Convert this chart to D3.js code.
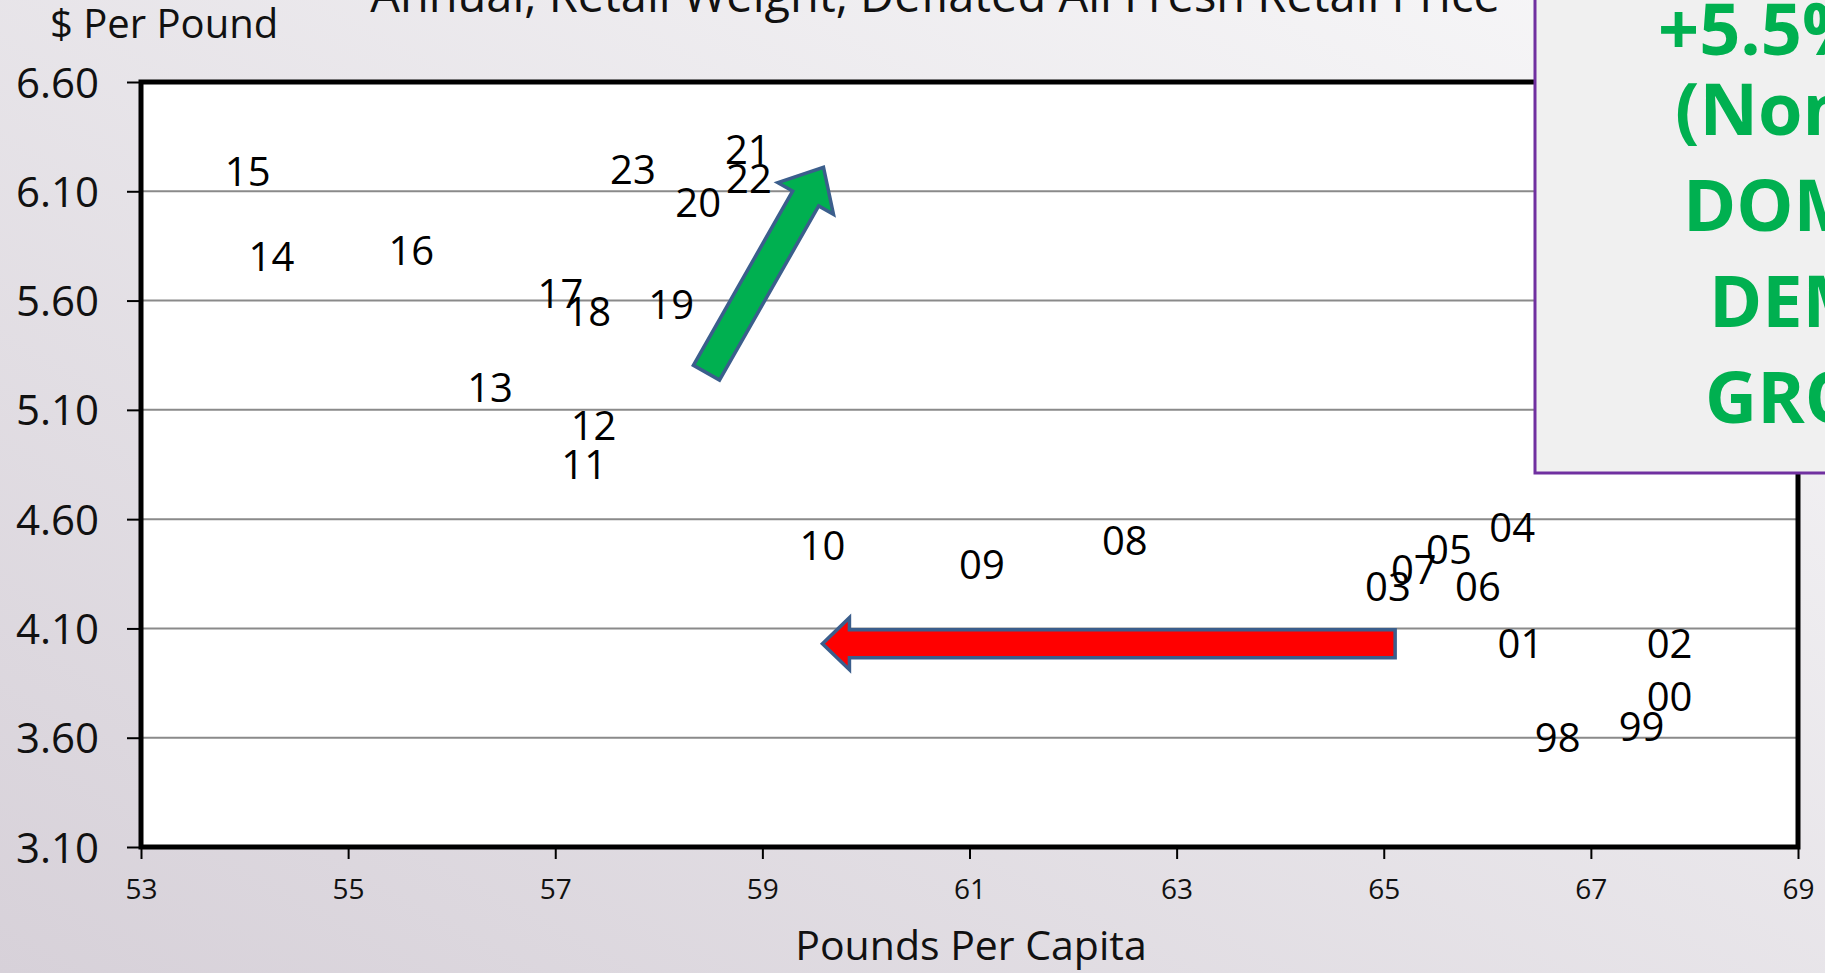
<!DOCTYPE html>
<html><head><meta charset="utf-8">
<script src="https://cdn.jsdelivr.net/npm/d3@7"></script>
<style>
body{margin:0;overflow:hidden;background:#e8e5ea;}
svg{display:block;}
text{font-family:"Open Sans",sans-serif;}
</style>
</head><body>
<script>
// ---- data ----
const years  = ["98","99","00","01","02","03","04","05","06","07","08","09","10","11","12","13","14","15","16","17","18","19","20","21","22","23"];
const pounds = [66.68,67.49,67.76,66.32,67.76,65.04,66.24,65.63,65.91,65.29,62.50,61.12,59.58,57.28,57.37,56.37,54.26,54.03,55.61,57.05,57.32,58.12,58.38,58.86,58.87,57.75];
const prices = [3.60,3.65,3.79,4.03,4.03,4.29,4.56,4.46,4.29,4.37,4.50,4.39,4.48,4.85,5.03,5.20,5.80,6.19,5.83,5.63,5.55,5.58,6.05,6.29,6.16,6.20];
const xTicks = [53,55,57,59,61,63,65,67,69];
const yTicks = [3.10,3.60,4.10,4.60,5.10,5.60,6.10,6.60];
const titleText = "Annual, Retail Weight, Deflated All Fresh Retail Price";
const yTitle = "$ Per Pound";
const xTitle = "Pounds Per Capita";
const calloutLines = ["+5.5%","(Nominal)","DOMESTIC","DEMAND","GROWTH"];
// arrows in data units: [x1,y1] tail -> [x2,y2] tip
const upArrow = {from:[58.46,5.27], to:[59.59,6.21]};
const leftArrow = {from:[65.11,4.03], to:[59.58,4.03]};

// ---- layout ----
const W = 1825, H = 973;
const L = 141, R = 1798, T = 82, B = 847;

const svg = d3.select("body").append("svg").attr("width", W).attr("height", H);
const defs = svg.append("defs");
const g = defs.append("linearGradient").attr("id","bg")
  .attr("x1","1").attr("y1","0").attr("x2","0").attr("y2","1");
g.append("stop").attr("offset","0").attr("stop-color","#f8f8f9");
g.append("stop").attr("offset","1").attr("stop-color","#d7d1d9");
svg.append("rect").attr("width",W).attr("height",H).attr("fill","url(#bg)");

const x = d3.scaleLinear().domain([53,69]).range([L,R]);
const y = d3.scaleLinear().domain([3.10,6.60]).range([B,T]);

// title (partially cut at the top)
svg.append("text").attr("x",935).attr("y",12).attr("text-anchor","middle")
  .attr("font-size",47).attr("fill","#111").text(titleText);

svg.append("text").attr("x",50).attr("y",38).attr("font-size",40).attr("fill","#111").text(yTitle);

// plot background
svg.append("rect").attr("x",L).attr("y",T).attr("width",R-L).attr("height",B-T).attr("fill","#fff");

// gridlines
svg.append("g").selectAll("line").data(yTicks.slice(1,-1)).join("line")
  .attr("x1",L).attr("x2",R).attr("y1",d=>y(d)).attr("y2",d=>y(d))
  .attr("stroke","#8a8a8a").attr("stroke-width",2);

// axes
const yAxis = svg.append("g").attr("transform",`translate(${L},0)`)
  .call(d3.axisLeft(y).tickValues(yTicks).tickFormat(d3.format(".2f")).tickSize(14).tickPadding(42));
yAxis.select(".domain").remove();
yAxis.selectAll(".tick line").attr("stroke","#000").attr("stroke-width",2);
yAxis.selectAll(".tick text").attr("font-size",42).attr("fill","#111").attr("font-family","Open Sans")
  .attr("x",-42).attr("dy","0.36em");

const xAxis = svg.append("g").attr("transform",`translate(0,${B})`)
  .call(d3.axisBottom(x).tickValues(xTicks).tickFormat(d3.format("d")).tickSize(12).tickPadding(20));
xAxis.select(".domain").remove();
xAxis.selectAll(".tick line").attr("stroke","#000").attr("stroke-width",2);
xAxis.selectAll(".tick text").attr("font-size",28).attr("fill","#111").attr("font-family","Open Sans")
  .attr("y",52).attr("dy","0");

// frame
svg.append("rect").attr("x",L).attr("y",T).attr("width",R-L).attr("height",B-T)
  .attr("fill","none").attr("stroke","#000").attr("stroke-width",5);

svg.append("text").attr("x",971).attr("y",960).attr("text-anchor","middle")
  .attr("font-size",41).attr("fill","#111").text(xTitle);

// data labels (markers hidden, year labels centred on points)
svg.append("g").selectAll("text").data(years).join("text")
  .attr("x",(d,i)=>x(pounds[i])).attr("y",(d,i)=>y(prices[i]))
  .attr("dy","0.36em").attr("text-anchor","middle")
  .attr("font-size",40).attr("fill","#000").text(d=>d);

// block arrows
function blockArrow(a, shaftW, headW, headL){
  const x1=x(a.from[0]), y1=y(a.from[1]), x2=x(a.to[0]), y2=y(a.to[1]);
  const dx=x2-x1, dy=y2-y1, len=Math.hypot(dx,dy);
  const ux=dx/len, uy=dy/len, nx=-uy, ny=ux;
  const bx=x2-ux*headL, by=y2-uy*headL;
  const pts=[
    [x1+nx*shaftW/2, y1+ny*shaftW/2],
    [bx+nx*shaftW/2, by+ny*shaftW/2],
    [bx+nx*headW/2, by+ny*headW/2],
    [x2, y2],
    [bx-nx*headW/2, by-ny*headW/2],
    [bx-nx*shaftW/2, by-ny*shaftW/2],
    [x1-nx*shaftW/2, y1-ny*shaftW/2]
  ];
  return "M"+pts.map(p=>p.join(",")).join("L")+"Z";
}
svg.append("path").attr("d",blockArrow(upArrow,30,64,36))
  .attr("fill","#00b050").attr("stroke","#3b5e8c").attr("stroke-width",3.5).attr("stroke-linejoin","miter");
svg.append("path").attr("d",blockArrow(leftArrow,28,52,27))
  .attr("fill","#ff0000").attr("stroke","#3b5e8c").attr("stroke-width",3.5).attr("stroke-linejoin","miter");

// callout box (cut off at the right / top edge)
svg.append("rect").attr("x",1535).attr("y",-10).attr("width",400).attr("height",483)
  .attr("fill","#f0f0f0").attr("stroke","#7030a0").attr("stroke-width",3);
const cx = [1658,1675,1683,1709,1705];
const cy = [55,135,231,327,423];
svg.append("g").selectAll("text").data(calloutLines).join("text")
  .attr("x",(d,i)=>cx[i]).attr("y",(d,i)=>cy[i])
  .attr("font-size",72).attr("font-weight",700).attr("fill","#00b050").text(d=>d);
</script>
</body></html>
